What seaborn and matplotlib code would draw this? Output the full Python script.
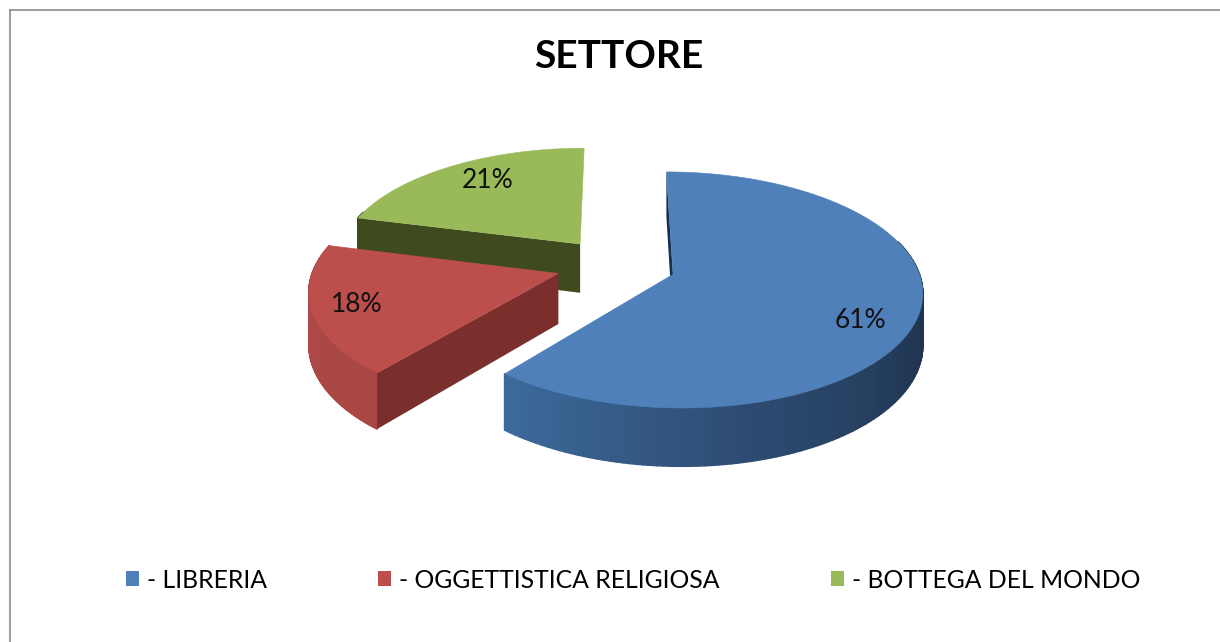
import numpy as np
import matplotlib
matplotlib.use('Agg')
import matplotlib.pyplot as plt
import seaborn as sns
from matplotlib.collections import PolyCollection
from matplotlib.patches import Patch, Polygon

title = 'SETTORE'
sectors = ['- LIBRERIA', '- OGGETTISTICA RELIGIOSA', '- BOTTEGA DEL MONDO']
shares = [61, 18, 21]
share_labels = ['61%', '18%', '21%']
top_colors = ['#4f80ba', '#bc4f4c', '#9aba59']
cut_colors = ['#17304f', '#7a2f2d', '#404a1f']
wall_ramps = [['#1c3048', '#1c3048', '#1f3550', '#2c4a70', '#3d6a9c'],
              ['#a84745', '#b04a47'],
              ['#404a1f', '#404a1f']]
# the cut face at the start of each slice is the one the camera sees
label_xy = [(860, 320), (357, 304), (488, 180)]

sns.set_theme(style='white')
plt.rcParams['font.family'] = ['Lato', 'DejaVu Sans']

# camera of the tilted pie, in pixels
cx, cy = 616, 265
fx, fy = 250, 113.5
persp = 0.131
explode = 0.24
rx = 0.975
depth = 50


def project(x, y, down=0.0):
    s = 1 / (1 + persp * y)
    return np.column_stack([cx + fx * x * s, cy - fy * y * s + down * s])


fig = plt.figure(figsize=(12.2, 6.42), dpi=100)
ax = fig.add_axes([9.5 / 1220, 0, 1 - 9.5 / 1220, 1 - 9.5 / 642])
ax.set_xlim(9.5, 1220)
ax.set_ylim(642, 9.5)
ax.set_xticks([])
ax.set_yticks([])
sns.despine(ax=ax, top=False, right=True, left=False, bottom=True)
for side in ['top', 'left']:
    ax.spines[side].set_color('#8c8c8c')
    ax.spines[side].set_linewidth(1.2)

ends = np.cumsum(shares) / np.sum(shares) * 2 * np.pi
starts = ends - np.array(shares) / np.sum(shares) * 2 * np.pi

# back slices first so that the front ones cover them
for i in [2, 1, 0]:
    mid = (starts[i] + ends[i]) / 2
    x0, y0 = explode * np.sin(mid), explode * np.cos(mid)
    t = np.linspace(starts[i], ends[i], 160)
    xs, ys = x0 + rx * np.sin(t), y0 + np.cos(t)

    upper = project(xs, ys)
    lower = project(xs, ys, depth)
    ramp = sns.blend_palette(wall_ramps[i], len(t) - 1)
    # the back part of the rim is out of sight
    keep = [k for k in range(len(t) - 1) if np.cos(t[k]) < 0.3]
    quads = [[upper[k], upper[k + 1], lower[k + 1], lower[k]] for k in keep]
    if quads:
        colors = [ramp[k] for k in keep]
        ax.add_collection(PolyCollection(quads, facecolors=colors, edgecolors=colors, linewidths=1.2, zorder=i * -3 + 6))

    apex_up = project(np.array([x0]), np.array([y0]))
    apex_low = project(np.array([x0]), np.array([y0]), depth)
    ax.add_patch(Polygon(np.vstack([apex_up, upper[0], lower[0], apex_low]), color=cut_colors[i], lw=0, zorder=i * -3 + 7))
    ax.add_patch(Polygon(np.vstack([apex_up, upper]), color=top_colors[i], lw=0.4, zorder=i * -3 + 8))
    ax.text(label_xy[i][0], label_xy[i][1], share_labels[i], ha='center', va='center', fontsize=19, color='#111111', zorder=20)

ax.text(619, 57, title, ha='center', va='center', fontsize=28, fontweight='bold', color='black')

handles = [Patch(facecolor=c, edgecolor='none', label=s) for c, s in zip(top_colors, sectors)]
fig.legend(handles=handles, loc='center', bbox_to_anchor=(633 / 1220, 1 - 580 / 642), ncol=3, frameon=False,
           fontsize=17.8, handlelength=0.53, handleheight=0.53, handletextpad=0.32, columnspacing=4.5, labelcolor='black')

fig.savefig('out.png', dpi=100, facecolor='white')
